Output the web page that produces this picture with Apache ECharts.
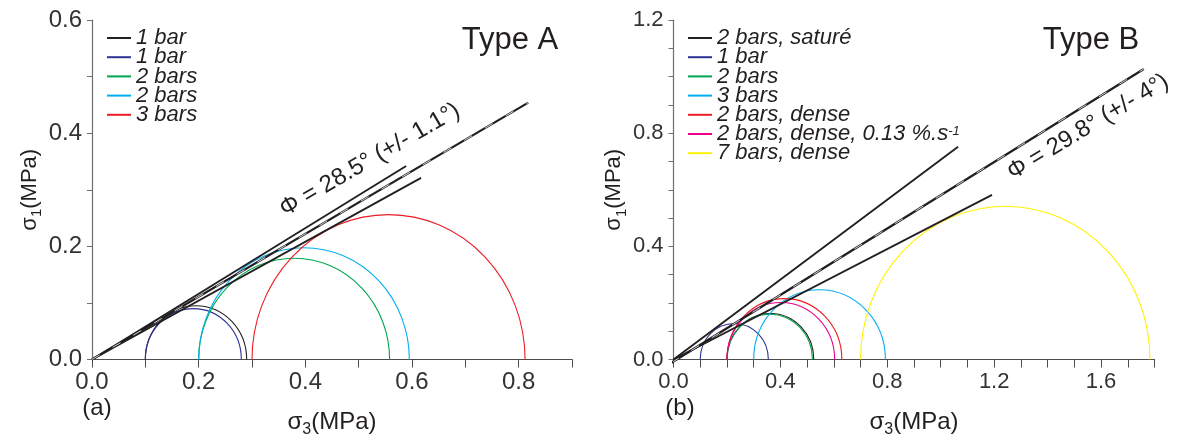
<!DOCTYPE html>
<html>
<head>
<meta charset="utf-8">
<script src="https://cdn.jsdelivr.net/npm/echarts@6/dist/echarts.min.js"></script>
<style>
  html, body { margin: 0; padding: 0; background: #fff; }
  #chart { width: 1182px; height: 436px; }
</style>
</head>
<body>
<div id="chart"></div>
<script>
// Type A circles: sigma3 at the left and right ends of each half circle
const typeANames = ['1 bar', '1 bar#2', '2 bars', '2 bars#2', '3 bars'];
const typeALow = [0.10, 0.10, 0.20, 0.20, 0.30];
const typeAHigh = [0.290, 0.280, 0.558, 0.595, 0.812];

// Type B circles
const typeBNames = ['2 bars, saturé#b', '1 bar#b', '2 bars#b', '3 bars#b', '2 bars, dense#b', '2 bars, dense, 0.13 %.s#b', '7 bars, dense#b'];
const typeBLow = [0.20, 0.10, 0.20, 0.30, 0.20, 0.20, 0.70];
const typeBHigh = [0.525, 0.355, 0.520, 0.793, 0.630, 0.603, 1.783];

// envelope lines, [sigma3, sigma1] end points
const envATop = [[0, 0], [0.589, 0.342]];
const envAMid = [[0, 0], [0.818, 0.454]];
const envABottom = [[0, 0], [0.617, 0.321]];
const envBTop = [[0, 0], [1.065, 0.752]];
const envBMid = [[-0.162, -0.102], [1.760, 1.027]];
const envBBottom = [[0, 0], [1.192, 0.582]];

const colorsA = ['#231f20', '#2e3192', '#00a651', '#00aeef', '#ed1c24'];
const colorsB = ['#231f20', '#2e3192', '#00a651', '#00aeef', '#ed1c24', '#ec008c', '#fff200'];

const FONT = '"Liberation Sans", Arial, sans-serif';
const INK = '#231f20';

function arcItem (params, api) {
    const lo = api.value(0);
    const hi = api.value(1);
    const r = (hi - lo) / 2;
    const p0 = api.coord([lo, 0]);
    const p1 = api.coord([hi, 0]);
    const s = api.size([r, r]);
    return {
        type: 'path',
        shape: {
            pathData: 'M' + p0[0] + ' ' + p0[1] + ' A' + s[0] + ' ' + s[1] + ' 0 0 1 ' + p1[0] + ' ' + p1[1]
        },
        style: { fill: null, stroke: api.visual('color'), lineWidth: 1.1 }
    };
}

function circleSeries (names, lows, highs, colors, idx) {
    return names.map(function (n, i) {
        return {
            type: 'custom',
            name: n,
            xAxisIndex: idx,
            yAxisIndex: idx,
            itemStyle: { color: colors[i] },
            encode: { x: [0, 1], y: 2 },
            data: [[lows[i], highs[i], 0]],
            renderItem: arcItem,
            z: 2
        };
    });
}

function envSeries (pts, idx, mid) {
    const out = [{
        type: 'line', xAxisIndex: idx, yAxisIndex: idx, data: pts,
        symbol: 'none', clip: false, silent: true, z: 3,
        lineStyle: { color: INK, width: mid ? 2.2 : 1.9 }
    }];
    if (mid) {
        out.push({
            type: 'line', xAxisIndex: idx, yAxisIndex: idx, data: pts,
            symbol: 'none', clip: false, silent: true, z: 4,
            lineStyle: { color: '#ffffff', width: 0.8, type: [9, 15] }
        });
    }
    return out;
}

function stepLabel (step) {
    return function (v) {
        const k = Math.round(v * 10);
        return k % step === 0 ? v.toFixed(1) : '';
    };
}

function axisName (sub, size, gap) {
    return {
        name: '{g|σ}{s|' + sub + '}{g|(MPa)}',
        nameLocation: 'middle',
        nameGap: gap,
        nameTextStyle: {
            rich: {
                g: { fontSize: size, color: INK, fontFamily: FONT, lineHeight: 30 },
                s: { fontSize: Math.round(size * 0.68), color: INK, fontFamily: FONT, lineHeight: 16, verticalAlign: 'bottom' }
            }
        }
    };
}

function xAxis (idx, max, step, size) {
    return Object.assign({
        type: 'value', gridIndex: idx, min: 0, max: max, interval: 0.1,
        splitLine: { show: false },
        axisLine: { onZero: false, lineStyle: { color: '#4d4d4d', width: 1.2 } },
        axisTick: { length: 8, lineStyle: { color: '#4d4d4d' } },
        axisLabel: { formatter: stepLabel(step), fontSize: size, color: '#333', fontFamily: FONT, margin: 11 }
    }, axisName('3', 24, 48));
}

function yAxis (idx, max, step, size, gap) {
    return Object.assign({
        type: 'value', gridIndex: idx, min: 0, max: max, interval: 0.1,
        splitLine: { show: false },
        axisLine: { onZero: false, lineStyle: { color: '#6d6e71', width: 1.2 } },
        axisTick: { length: 5, lineStyle: { color: '#6d6e71' } },
        axisLabel: { formatter: stepLabel(step), fontSize: size, color: '#333', fontFamily: FONT, margin: 10 }
    }, axisName('1', 22, gap));
}

function legendFor (names, left) {
    return {
        data: names,
        orient: 'vertical',
        left: left,
        top: 22,
        icon: 'rect',
        itemWidth: 24,
        itemHeight: 2,
        itemGap: -2.8,
        selectedMode: false,
        formatter: function (n) {
            const t = n.split('#')[0];
            if (t.indexOf('0.13') >= 0) {
                return '{t|' + t + '}{sup|-1}';
            }
            return t;
        },
        textStyle: {
            fontSize: 22, fontStyle: 'italic', color: INK, fontFamily: FONT, lineHeight: 19,
            rich: {
                t: { fontSize: 22, fontStyle: 'italic', color: INK, fontFamily: FONT, lineHeight: 19 },
                sup: { fontSize: 13, fontStyle: 'italic', color: INK, fontFamily: FONT, lineHeight: 12, verticalAlign: 'top' }
            }
        }
    };
}

function label (text, x, y, size, deg) {
    return {
        type: 'text', x: x, y: y, rotation: (deg || 0) * Math.PI / 180,
        style: { text: text, fontSize: size, fontFamily: FONT, fill: INK, align: 'center', verticalAlign: 'middle' }
    };
}

const chart = echarts.init(document.getElementById('chart'), null, { renderer: 'canvas' });

chart.setOption({
    animation: false,
    backgroundColor: '#ffffff',
    grid: [
        { left: 92, top: 20, width: 480, height: 339.5, outerBoundsMode: 'none', containLabel: false },
        { left: 673.5, top: 20, width: 481, height: 339.5, outerBoundsMode: 'none', containLabel: false }
    ],
    xAxis: [xAxis(0, 0.9, 2, 24), xAxis(1, 1.8, 4, 22)],
    yAxis: [yAxis(0, 0.6, 2, 24, 44), yAxis(1, 1.2, 4, 22, 44)],
    legend: [legendFor(typeANames, 102), legendFor(typeBNames, 683)],
    graphic: [
        label('Type A', 510, 40, 31),
        label('Type B', 1091, 40, 31),
        label('(a)', 97, 408, 24),
        label('(b)', 680, 408, 24),
        label('Φ = 28.5° (+/- 1.1°)', 370, 160, 24, 30),
        label('Φ = 29.8° (+/- 4°)', 1088, 127, 24, 31)
    ],
    series: [].concat(
        circleSeries(typeANames, typeALow, typeAHigh, colorsA, 0),
        circleSeries(typeBNames, typeBLow, typeBHigh, colorsB, 1),
        envSeries(envATop, 0), envSeries(envAMid, 0, true), envSeries(envABottom, 0),
        envSeries(envBTop, 1), envSeries(envBMid, 1, true), envSeries(envBBottom, 1)
    )
});
</script>
</body>
</html>
